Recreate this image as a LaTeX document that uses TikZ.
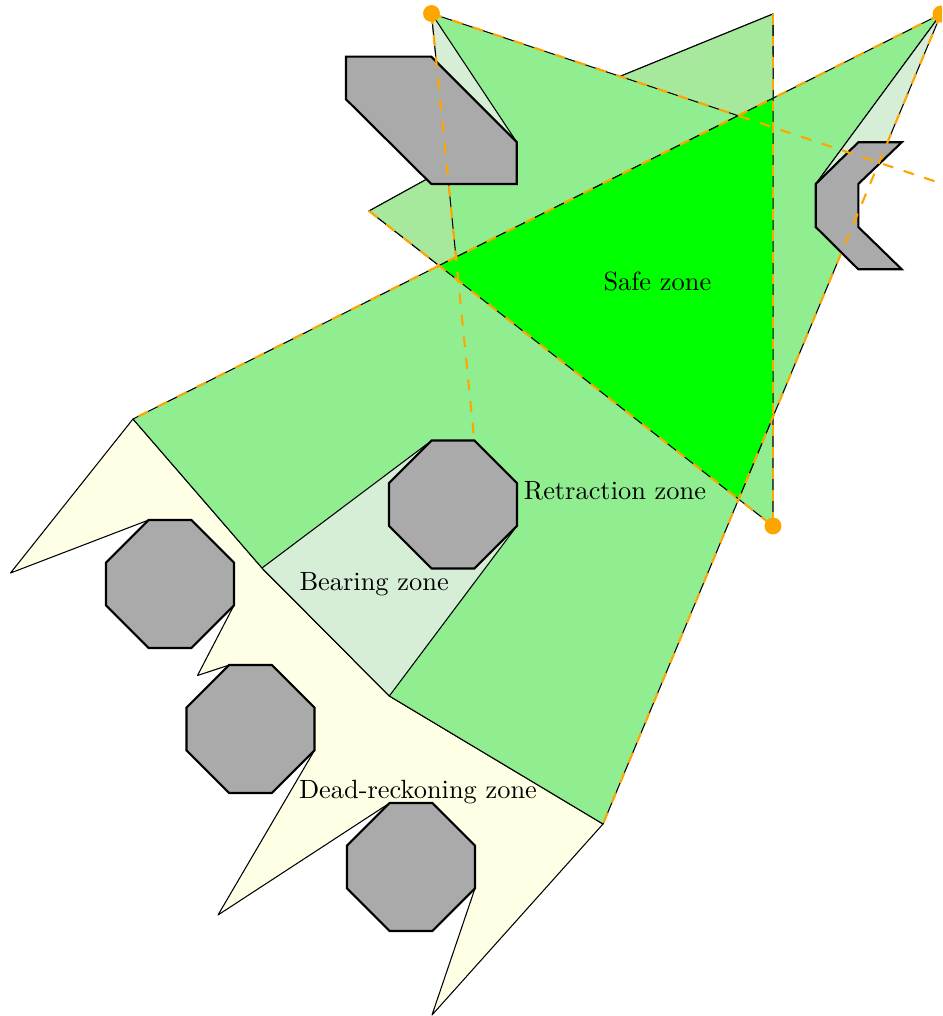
\documentclass[tikz,border=0pt]{standalone}
\usetikzlibrary{calc}
\definecolor{drzone}{RGB}{255,255,230}
\definecolor{retzone}{RGB}{144,238,144}
\definecolor{retzoneb}{RGB}{166,233,156}
\definecolor{bearzone}{RGB}{214,237,214}
\definecolor{safezone}{RGB}{0,255,0}
\definecolor{obstgray}{RGB}{170,170,170}
\definecolor{lmorange}{RGB}{255,165,0}
\begin{document}
\begin{tikzpicture}[x=0.379pt,y=-0.379pt,
  zone/.style={draw=black,line width=0.4pt,line join=round},
  obstacle/.style={fill=obstgray,draw=black,line width=0.8pt,line join=miter},
  bearingline/.style={draw=lmorange,line width=0.8pt,dash pattern=on 4.1pt off 4.1pt},
  landmark/.style={circle,fill=lmorange,inner sep=0pt,minimum size=6.4pt},
  lbl/.style={inner sep=0pt,anchor=base west}]
\path[use as bounding box] (0,0) rectangle (942,1016);
\clip (0,0) rectangle (942,1016);
% landmarks and key points
\coordinate (L1) at (431.5,13.5);
\coordinate (L2) at (941,14);
\coordinate (L3) at (773,526);
\coordinate (T) at (773,14);
\coordinate (S) at (369,211);
\coordinate (Bh) at (594,87);
\coordinate (AL) at (133,419);
\coordinate (AB) at (603,824);
\coordinate (K1) at (262,568);
\coordinate (K2) at (389.3,696);
\coordinate (D2e) at (474.3,440.5);
\coordinate (D1e) at (1000,203);
% yellow tips
\coordinate (Y1) at (10.5,573);
\coordinate (Y2) at (197.5,675.5);
\coordinate (Y3) at (218,915);
\coordinate (Y4) at (432,1015);
% octagon corners
\coordinate (O1tl) at (148.7,520);
\coordinate (O1rb) at (234,605.3);
\coordinate (O2tl) at (229.2,665);
\coordinate (O2rb) at (314.5,750.3);
\coordinate (O3tl) at (389.7,803);
\coordinate (O3rb) at (475,888.3);
\coordinate (O4tl) at (431.7,440.5);
\coordinate (O4rb) at (517,525.8);
% obstacle corners
\coordinate (P1) at (346,56.7);
\coordinate (P2) at (431.3,56.7);
\coordinate (P3) at (516.7,142);
\coordinate (P4) at (516.7,184);
\coordinate (P5) at (431.3,184);
\coordinate (P6) at (346,99.3);
\coordinate (Q1) at (858.3,142.3);
\coordinate (Q2) at (901.7,142.3);
\coordinate (Q3) at (858.3,184);
\coordinate (Q4) at (858.3,227);
\coordinate (Q5) at (901.7,269.3);
\coordinate (Q6) at (858.3,269.3);
\coordinate (Q7) at (815.7,227);
\coordinate (Q0) at (815.7,184);
% intersections
\coordinate (X) at (intersection of L2--AL and S--L3);
\coordinate (SZ1) at (intersection of L2--AL and T--L3);
\coordinate (SZ2) at (intersection of L2--AB and T--L3);
\coordinate (SZ3) at (intersection of L2--AB and S--L3);
\coordinate (C1) at (intersection of L1--D1e and L2--AL);
\coordinate (C2) at (intersection of L1--D2e and L2--AL);
\coordinate (V1) at (intersection of L1--D2e and P2--P3);
\coordinate (V2) at (intersection of L2--AB and Q1--Q2);
\coordinate (W) at (intersection of L2--AB and Q6--Q7);
% zones
\filldraw[zone,fill=drzone] (AL) -- (Y1) -- (O1tl) -- (O1rb) -- (Y2) -- (O2tl) -- (O2rb) -- (Y3) -- (O3tl) -- (O3rb) -- (Y4) -- (AB) -- (K2) -- (K1) -- cycle;
\filldraw[zone,fill=retzone] (T) -- (Bh) -- (S) -- (L3) -- cycle;
\filldraw[zone,fill=retzone] (L2) -- (AL) -- (K1) -- (K2) -- (AB) -- (W) -- (Q7) -- (Q0) -- cycle;
\filldraw[zone,fill=retzoneb] (T) -- (Bh) -- (S) -- (X) -- (SZ1) -- cycle;
\filldraw[zone,fill=retzone] (L1) -- (C1) -- (C2) -- cycle;
\filldraw[zone,fill=bearzone] (K1) -- (O4tl) -- (O4rb) -- (K2) -- cycle;
\filldraw[zone,fill=bearzone] (L1) -- (P3) -- (V1) -- cycle;
\filldraw[zone,fill=bearzone] (L2) -- (Q0) -- (Q1) -- (V2) -- cycle;
\filldraw[zone,fill=safezone] (X) -- (SZ1) -- (SZ2) -- (SZ3) -- cycle;
% obstacles
\foreach \ox/\oy in {106/520, 186.5/665, 347/803, 389/440.5}{
  \draw[obstacle,shift={(\ox,\oy)}] (42.67,0) -- (85.33,0) -- (128,42.67) -- (128,85.33) -- (85.33,128) -- (42.67,128) -- (0,85.33) -- (0,42.67) -- cycle;
}
\draw[obstacle] (P1) -- (P2) -- (P3) -- (P4) -- (P5) -- (P6) -- cycle;
\draw[obstacle] (Q1) -- (Q2) -- (Q3) -- (Q4) -- (Q5) -- (Q6) -- (Q7) -- (Q0) -- cycle;
% bearing lines
\draw[bearingline] (L1) -- (D1e);
\draw[bearingline] (L1) -- (D2e);
\draw[bearingline] (L2) -- (AL);
\draw[bearingline] (L2) -- (AB);
\draw[bearingline] (T) -- (L3);
\draw[bearingline] (S) -- (L3);
% landmarks
\node[landmark] (lm1) at (L1) {};
\node[landmark] (lm2) at (L2) {};
\node[landmark] (lm3) at (L3) {};
% labels
\node[lbl] (safe) at (603,291) {Safe zone};
\node[lbl] (retr) at (523.3,499) {Retraction zone};
\node[lbl] (bear) at (299,590) {Bearing zone};
\node[lbl] (dead) at (298.5,798.3) {Dead-reckoning zone};
\end{tikzpicture}
\end{document}
